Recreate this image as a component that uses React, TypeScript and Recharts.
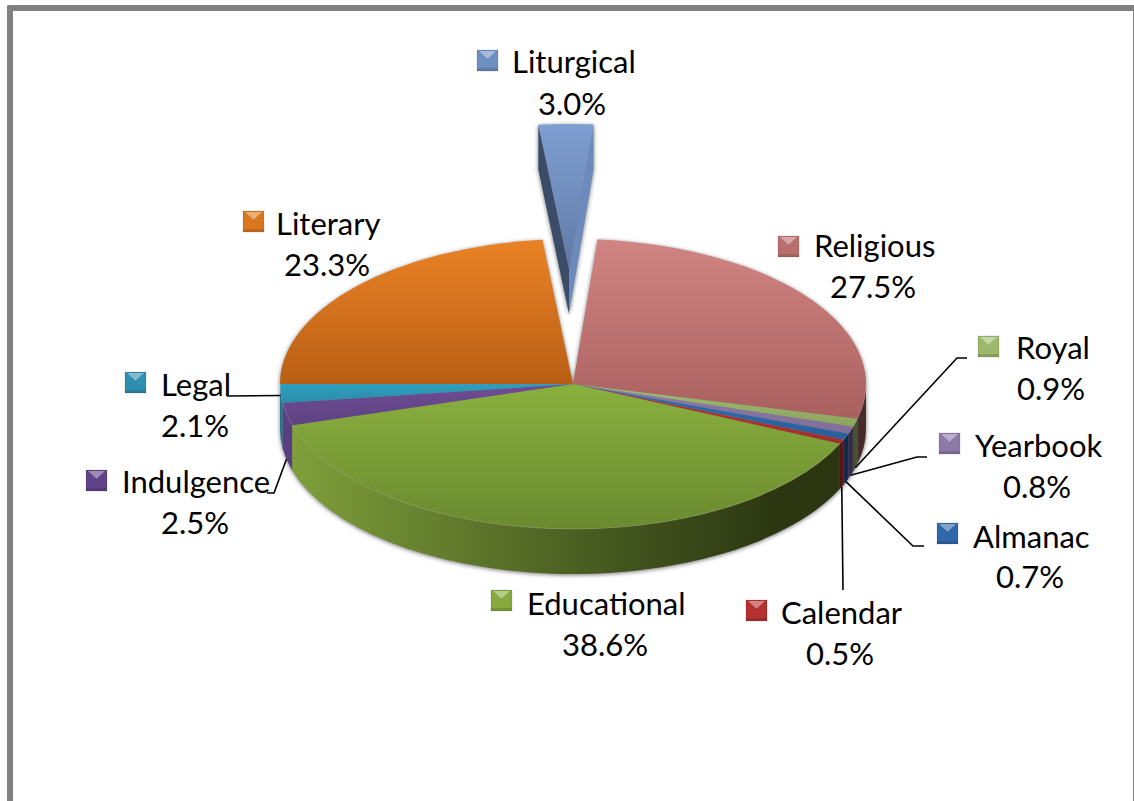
import { Pie, PieChart } from "recharts";

const categories = ["Liturgical", "Religious", "Royal", "Yearbook", "Almanac", "Calendar", "Educational", "Indulgence", "Legal", "Literary"];
const shares = [3.0, 27.5, 0.9, 0.8, 0.7, 0.5, 38.6, 2.5, 2.1, 23.3];

const tableData = categories.map((name, i) => ({ name, value: shares[i] }));

// top face light/dark, wall stops left/right, legend key
const faceLight = ["#7f9fd2", "#d18583", "#a3bd72", "#8f7cab", "#3170b0", "#b83a36", "#8ab03f", "#6f4d94", "#2f9fbe", "#ea8225"];
const faceDark = ["#607aa6", "#a9605e", "#8ba35e", "#7f6d9a", "#285f9c", "#a12f2c", "#6a8a2f", "#5f4282", "#2a8ca8", "#b95f15"];
const wallLeft = ["#3b4c69", "#5c3a39", "#55643a", "#453a5c", "#1f3560", "#6e1c1a", "#7f9f3a", "#5a3f80", "#23758c", "#8a4a12"];
const wallRight = ["#6c8abb", "#472c2b", "#47532f", "#352d48", "#17274a", "#561514", "#2c3711", "#4a3369", "#1c6174", "#8a4a12"];
const keyColors = ["#6f8fc0", "#b96f6d", "#9cb86a", "#8c79a8", "#2f68a8", "#b5302e", "#86a93e", "#5f4287", "#2f8fae", "#d9771f"];

// where each label sits; leader is the elbow points after the slice rim, drop how far below the rim it starts
const labelLayout: Record<string, any> = {
  Liturgical: { key: [477, 50], text: [512, 73], pct: [572, 115] },
  Religious: { key: [778, 236], text: [814, 257], pct: [873, 298] },
  Royal: { key: [978, 336], text: [1016, 359], pct: [1051, 400], leader: [[957, 358], [967, 358]], drop: 45 },
  Yearbook: { key: [939, 433], text: [975, 457], pct: [1037, 498], leader: [[917, 457], [927, 457]], drop: 45 },
  Almanac: { key: [937, 523], text: [973, 548], pct: [1030, 588], leader: [[913, 546], [924, 546]], drop: 45 },
  Calendar: { key: [746, 600], text: [781, 624], pct: [840, 665], leader: [[843, 590]], drop: 45 },
  Educational: { key: [491, 590], text: [527, 615], pct: [605, 656] },
  Indulgence: { key: [86, 470], text: [122, 493], pct: [195, 534], leader: [[274, 493], [267, 493]], drop: 45 },
  Legal: { key: [125, 372], text: [161, 396], pct: [195, 437], leader: [[227, 396]], drop: 2 },
  Literary: { key: [243, 211], text: [276, 235], pct: [327, 276] },
};

const RX = 293;
const RY = 145;
const DEPTH = 45;
const FONT = "Lato, 'Open Sans', sans-serif";

function rimPoint(cx: number, cy: number, deg: number) {
  const a = (deg * Math.PI) / 180;
  return [cx + (RX * Math.cos(a)), cy - (RY * Math.sin(a))];
}

function SliceShape(props: any) {
  const { startAngle, endAngle, index } = props;
  const exploded = index === 0;
  const cx = props.cx + (exploded ? -4 : 0);
  const cy = props.cy + (exploded ? -115 : 0);
  const [sx, sy] = rimPoint(cx, cy, startAngle);
  const [ex, ey] = rimPoint(cx, cy, endAngle);
  const large = startAngle - endAngle > 180 ? 1 : 0;
  const top = `M${cx},${cy} L${sx},${sy} A${RX},${RY} 0 ${large} 1 ${ex},${ey} Z`;
  const hi = Math.min(startAngle, 0);
  const lo = Math.max(endAngle, -180);
  let wall = null;
  let rim = null;
  if (!exploded && hi > lo) {
    const [ax, ay] = rimPoint(cx, cy, hi);
    const [bx, by] = rimPoint(cx, cy, lo);
    wall = `M${ax},${ay} A${RX},${RY} 0 0 1 ${bx},${by} L${bx},${by + DEPTH} A${RX},${RY} 0 0 0 ${ax},${ay + DEPTH} Z`;
    rim = `M${ax},${ay} A${RX},${RY} 0 0 1 ${bx},${by}`;
  }
  const faceId = `face-${index}`;
  const wallId = `wall-${index}`;
  return (
    <g>
      <defs>
        <linearGradient id={faceId} x1="0" y1="0" x2="0" y2="1">
          <stop offset="0" stopColor={faceLight[index]} />
          <stop offset="1" stopColor={faceDark[index]} />
        </linearGradient>
        <linearGradient id={wallId} gradientUnits="userSpaceOnUse" x1={292} y1={0} x2={860} y2={0}>
          <stop offset="0" stopColor={wallLeft[index]} />
          <stop offset="0.55" stopColor={index === 6 ? "#465920" : wallLeft[index]} />
          <stop offset="0.85" stopColor={wallRight[index]} />
          <stop offset="1" stopColor={wallRight[index]} />
        </linearGradient>
      </defs>
      {exploded && (
        <>
          <path d={`M${sx},${sy} L${cx},${cy} L${cx},${cy + DEPTH} L${sx},${sy + DEPTH} Z`} fill={wallLeft[0]} />
          <path d={`M${ex},${ey} L${cx},${cy} L${cx},${cy + DEPTH} L${ex},${ey + DEPTH} Z`} fill={wallRight[0]} />
        </>
      )}
      {wall && <path d={wall} fill={`url(#${wallId})`} />}
      <path d={top} fill={`url(#${faceId})`} />
      {rim && <path d={rim} fill="none" stroke="#ffffff" strokeOpacity={0.15} strokeWidth={1} />}
    </g>
  );
}

function LegendKey({ x, y, color }: { x: number; y: number; color: string }) {
  const s = 21;
  return (
    <g>
      <rect x={x} y={y} width={s} height={s} fill={color} stroke="#000000" strokeOpacity={0.12} strokeWidth={1} />
      <polygon points={`${x + 2},${y + 1} ${x + s - 2},${y + 1} ${x + s / 2},${y + s * 0.42}`} fill="#ffffff" fillOpacity={0.4} />
      <rect x={x} y={y + s - 3} width={s} height={3} fill="#000000" fillOpacity={0.12} />
    </g>
  );
}

function SliceLabel(props: any) {
  const { name, value, index, cx, cy, midAngle } = props;
  const spot = labelLayout[name];
  let leader = null;
  if (spot.leader) {
    const [rx, ry] = rimPoint(cx, cy, midAngle);
    const pts = [[rx, ry + spot.drop], ...spot.leader];
    leader = <polyline points={pts.map((p: number[]) => p.join(",")).join(" ")} fill="none" stroke="#000000" strokeWidth={1.6} />;
  }
  return (
    <g>
      {leader}
      <LegendKey x={spot.key[0]} y={spot.key[1]} color={keyColors[index]} />
      <text x={spot.text[0]} y={spot.text[1]} fontFamily={FONT} fontSize={31} fill="#000000">{name}</text>
      <text x={spot.pct[0]} y={spot.pct[1]} fontFamily={FONT} fontSize={31} fill="#000000" textAnchor="middle">{`${value.toFixed(1)}%`}</text>
    </g>
  );
}

export default function App() {
  return (
    <div style={{ position: "fixed", left: 0, top: 0, width: 1134, height: 801, overflow: "hidden", background: "#ffffff" }}>
      <style>{`.pie-body { filter: drop-shadow(0 1px 2px rgba(0,0,0,0.55)); }`}</style>
      <div style={{ position: "absolute", left: 7, top: 5, width: 1120, height: 810, borderTop: "6px solid #808080", borderLeft: "6px solid #808080", borderRight: "6px solid #808080", borderRadius: 2 }} />
      <div style={{ position: "absolute", left: 0, top: 0 }}>
        <PieChart width={1134} height={801} margin={{ top: 0, right: 0, bottom: 0, left: 0 }}>
          <Pie
            className="pie-body"
            data={tableData}
            dataKey="value"
            nameKey="name"
            cx={573}
            cy={384}
            innerRadius={0}
            outerRadius={RX}
            startAngle={96}
            endAngle={-264}
            stroke="none"
            shape={SliceShape}
            isAnimationActive={false}
          />
          <Pie
            data={tableData}
            dataKey="value"
            nameKey="name"
            cx={573}
            cy={384}
            innerRadius={0}
            outerRadius={RX}
            startAngle={96}
            endAngle={-264}
            fill="none"
            stroke="none"
            shape={() => null}
            label={SliceLabel}
            labelLine={false}
            isAnimationActive={false}
          />
        </PieChart>
      </div>
    </div>
  );
}
